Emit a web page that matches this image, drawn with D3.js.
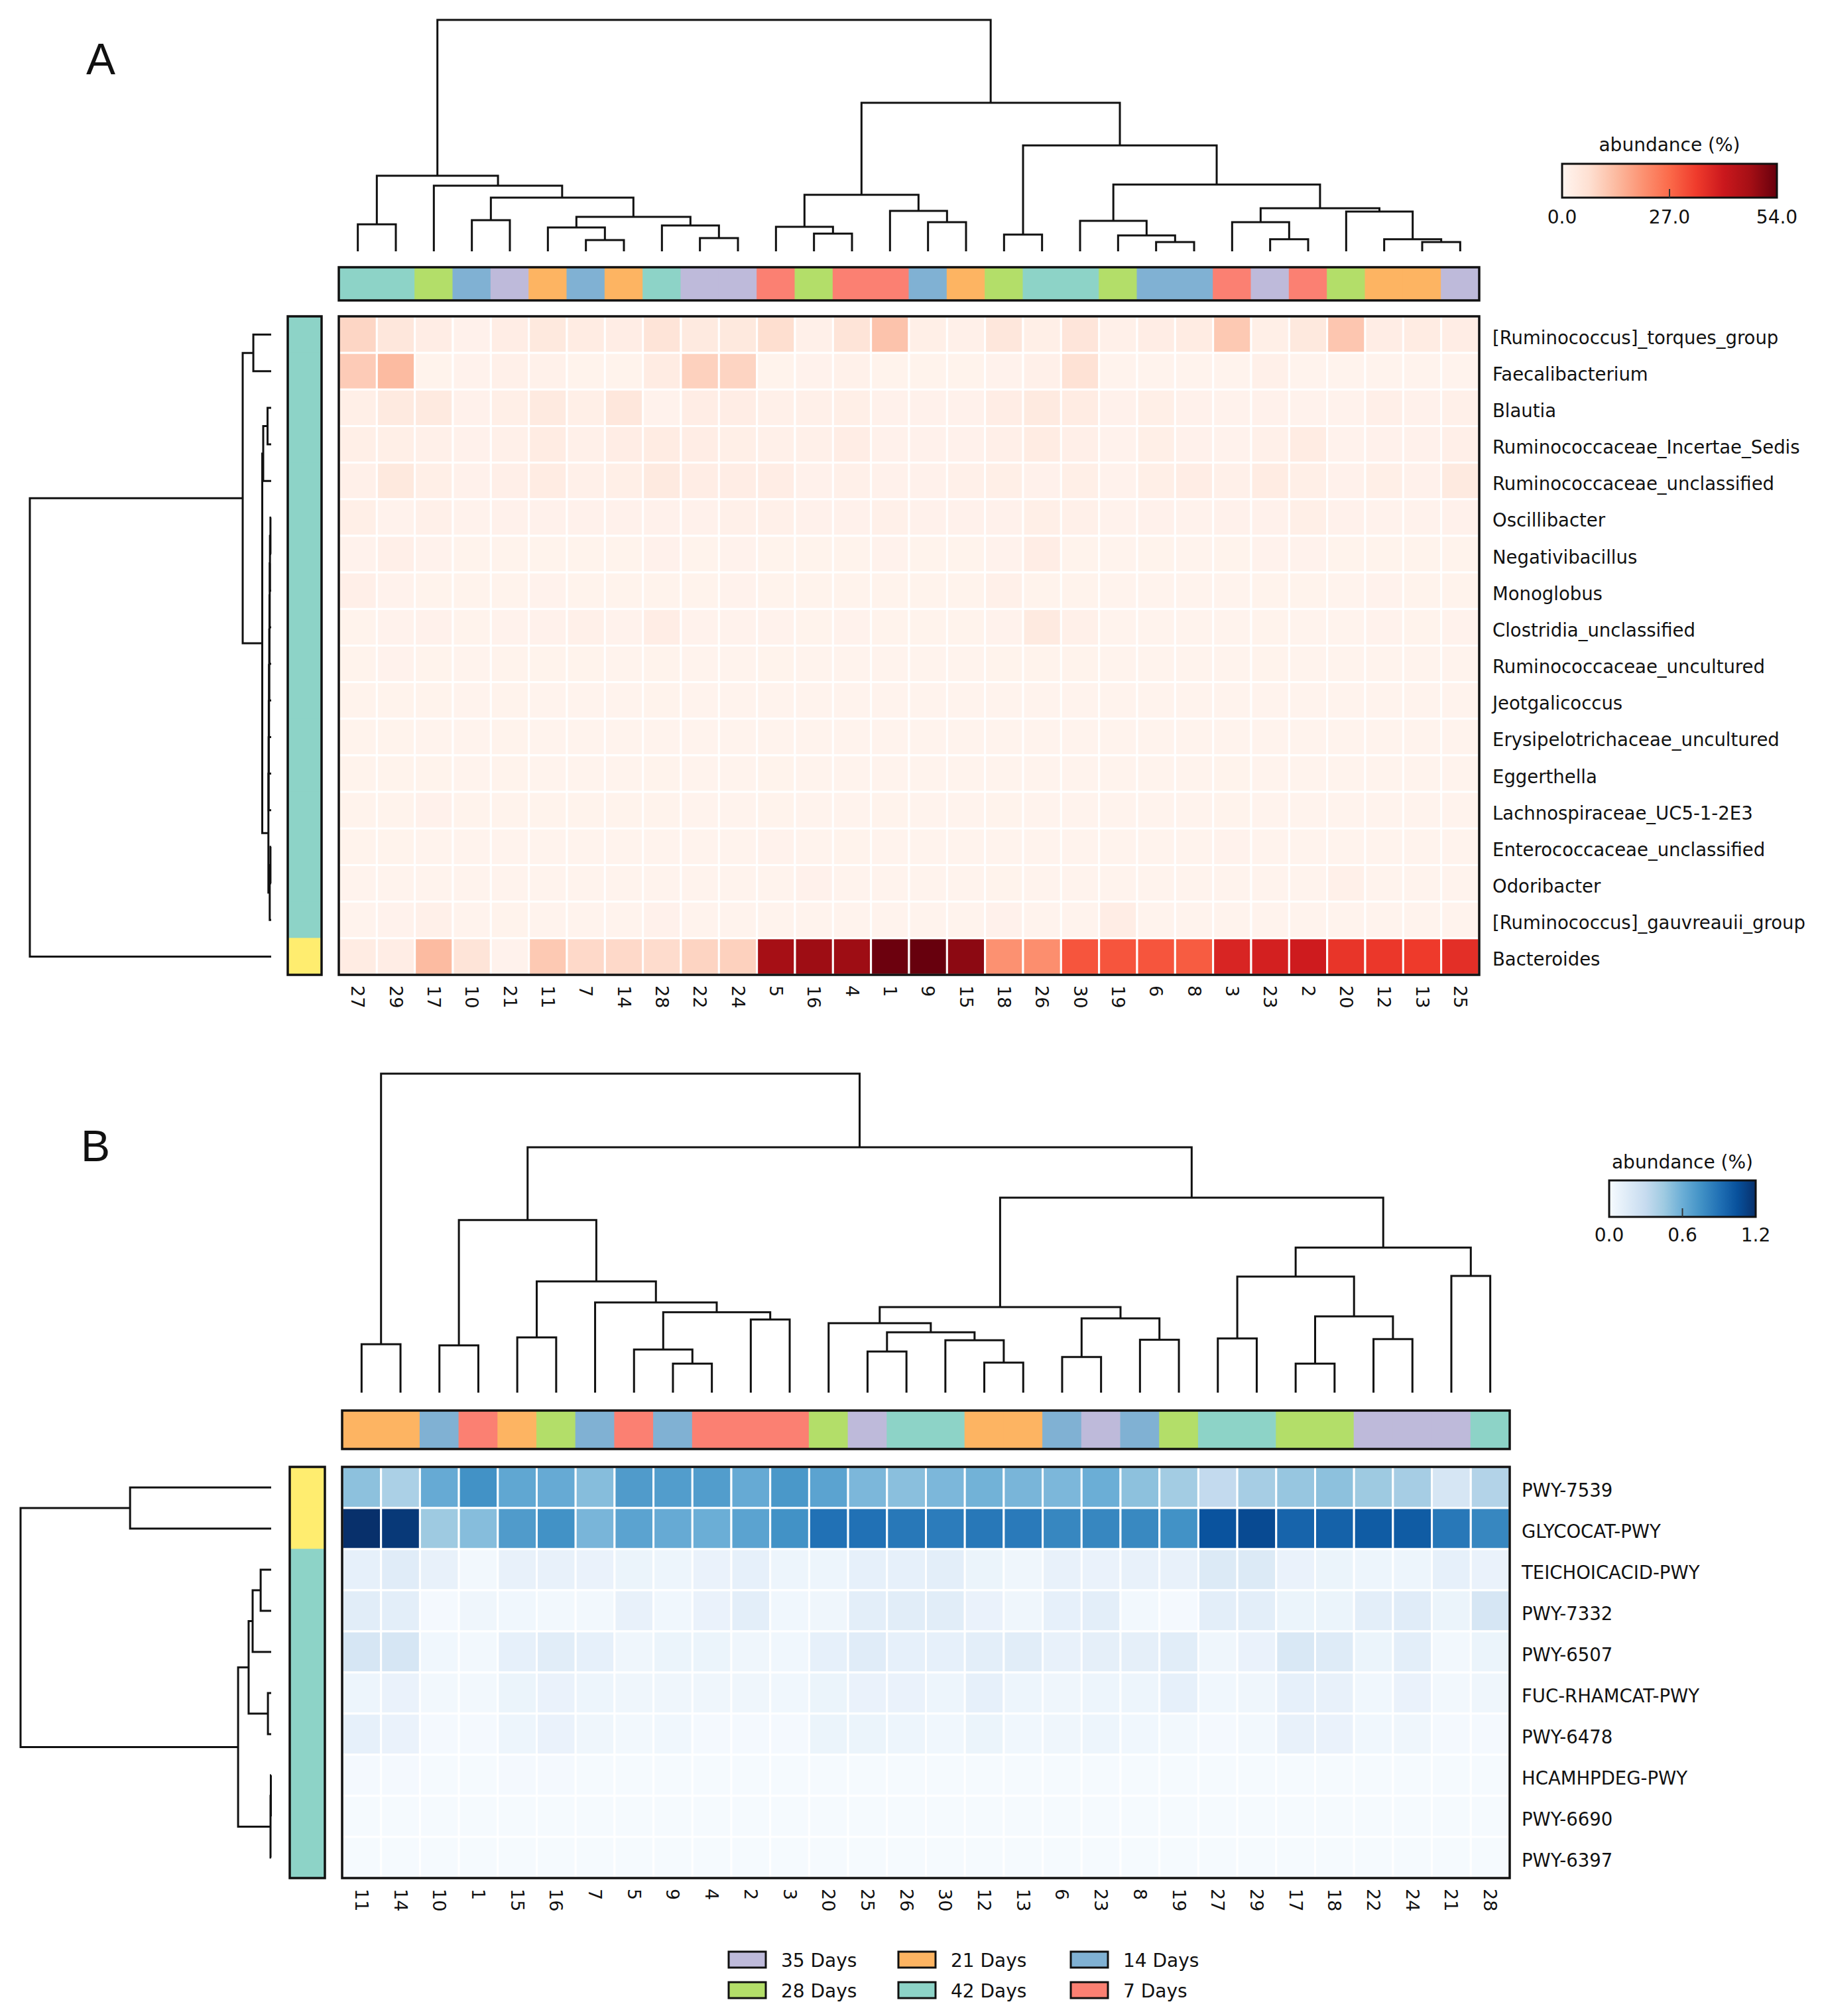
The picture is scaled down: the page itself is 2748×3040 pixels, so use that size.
<!DOCTYPE html>
<html>
<head>
<meta charset="utf-8">
<script src="https://cdn.jsdelivr.net/npm/d3@7"></script>
<style>
  body { margin: 0; background: #fff; }
  text { font-family: "DejaVu Sans", sans-serif; fill: #111; }
</style>
</head>
<body>
<div id="chart"></div>
<script>
"use strict";

// ---- shared data ----
var groupNames = ["7 Days", "14 Days", "21 Days", "28 Days", "35 Days", "42 Days"];
var groupColors = ["#fb8072", "#80b1d3", "#fdb462", "#b3de69", "#bebada", "#8dd3c7"];
// group index of sample 1..30
var sampleGroup = [0,0,0,0,0, 1,1,1,1,1, 2,2,2,2,2, 3,3,3,3,3, 4,4,4,4,4, 5,5,5,5,5];
var legendOrder = ["35 Days", "28 Days", "21 Days", "42 Days", "14 Days", "7 Days"];

var redsStops = ["#fff5f0","#fee0d2","#fcbba1","#fc9272","#fb6a4a","#ef3b2c","#cb181d","#a50f15","#67000d"];
var bluesStops = ["#f7fbff","#deebf7","#c6dbef","#9ecae1","#6baed6","#4292c6","#2171b5","#08519c","#08306b"];

// ---- panel A data ----
var colOrderA = [27,29,17,10,21,11,7,14,28,22,24,5,16,4,1,9,15,18,26,30,19,6,8,3,23,2,20,12,13,25];
var rowNamesA = ["[Ruminococcus]_torques_group","Faecalibacterium","Blautia","Ruminococcaceae_Incertae_Sedis",
  "Ruminococcaceae_unclassified","Oscillibacter","Negativibacillus","Monoglobus","Clostridia_unclassified",
  "Ruminococcaceae_uncultured","Jeotgalicoccus","Erysipelotrichaceae_uncultured","Eggerthella",
  "Lachnospiraceae_UC5-1-2E3","Enterococcaceae_unclassified","Odoribacter","[Ruminococcus]_gauvreauii_group","Bacteroides"];
// row cluster: 0 = teal, 1 = yellow
var rowClusterA = [0,0,0,0,0,0,0,0,0,0,0,0,0,0,0,0,0,1];
// values (%), columns in colOrderA order
var valuesA = [
  [8.5,4.5,2.5,1.2,2.5,4,3,2.5,5.5,3.5,4,7,1.5,5.5,12,2,1.5,4.5,2,5,1.5,2.5,3,11,2,4,11.5,2.5,3,2.5],
  [10.5,13.5,0.8,1,1.5,1.3,0.8,0.8,3,9.5,9,0.8,1,1.3,0.8,0.8,0.8,1,1.5,6,0.6,0.6,0.6,0.6,1.5,0.6,0.6,0.6,0.6,0.6],
  [2,3.5,3.5,1.2,2,3.5,2,4.5,1,2.5,2.5,1.5,1.5,2,1.2,1.2,1.2,2.5,3.5,3,1.2,2,1.2,1,1.2,1,1,1.8,1.2,1.5],
  [2,2,1.5,1.2,1.5,3,1.5,2.5,3,2.5,2,1.5,1.5,2.5,1.2,1.2,1.2,1.8,3,1.8,1,2,1.2,1,1.5,3,1,1.2,1.2,1.8],
  [1.5,4,2,1.2,1.8,3,1.5,2,3.5,2.5,2.5,2.5,1.2,1.5,1.2,1.2,1.5,2,1.2,2,1,2,2.5,1.5,3,2,1.2,2,1.2,3.5],
  [2,1,1.5,1,1.2,1.2,1.2,1.2,1.2,1.2,1.5,1.5,1.2,1.2,1.5,1.2,1.2,1.2,2,1.5,1,1.2,1,1.2,1.2,2,1.2,1,1,1.2],
  [1,1.8,1,0.8,0.8,0.8,0.8,0.8,1.2,0.8,1,0.8,0.8,0.8,1,0.8,0.8,1,2.5,0.8,0.6,0.8,0.6,0.8,1,1,0.8,0.8,0.8,0.8],
  [1.8,1,0.8,0.8,0.8,1,0.8,0.8,0.8,0.8,1,0.8,0.8,0.8,0.8,0.8,0.8,1.5,0.8,0.8,0.6,0.6,0.6,0.6,0.8,0.8,0.6,1,0.8,0.8],
  [0.8,1,1.2,0.8,1,1.2,1.5,1,2.5,1,1,1,0.8,1,0.8,0.8,0.8,1,3.5,1.5,0.6,0.6,0.6,0.6,0.8,0.6,0.6,1,0.8,1],
  [0.8,1,0.8,0.6,0.8,0.8,0.8,0.6,0.8,0.6,0.6,0.8,0.6,0.6,0.6,0.6,0.6,0.8,0.8,0.8,0.6,0.6,0.6,0.6,0.8,0.6,0.6,0.6,0.6,0.6],
  [0.8,0.8,0.8,0.6,0.8,0.6,0.6,0.6,0.8,0.6,0.6,0.6,0.6,0.6,0.6,0.6,0.6,0.6,0.6,0.6,0.6,0.6,0.6,0.6,0.6,0.6,0.6,0.6,0.6,0.6],
  [0.8,0.8,0.6,0.6,0.8,0.6,0.6,0.6,0.6,0.6,0.6,0.6,0.6,0.6,0.6,0.6,0.6,0.6,0.6,0.6,0.6,0.6,0.6,0.6,0.6,0.6,0.6,0.6,0.6,0.6],
  [0.8,0.8,0.8,0.6,0.8,0.6,0.6,0.6,0.8,0.6,0.6,0.8,0.6,0.6,0.6,0.6,0.6,0.6,0.6,0.6,0.6,0.6,0.6,0.8,0.6,0.6,0.6,0.6,0.6,0.6],
  [0.8,0.8,1.2,0.8,0.8,0.8,0.8,0.8,0.8,0.6,0.6,0.8,0.6,0.6,0.8,0.6,0.6,0.8,0.6,0.6,0.6,0.6,0.6,0.8,0.6,0.6,0.6,0.6,0.6,0.6],
  [0.8,0.8,0.6,0.6,0.6,0.6,0.6,0.6,0.6,0.6,0.6,1,0.6,0.8,0.6,0.6,0.6,0.6,0.6,0.6,0.6,0.6,0.6,1,0.6,0.6,0.6,0.6,0.6,0.6],
  [0.6,0.6,0.6,0.6,0.6,0.6,0.6,0.6,0.6,0.6,0.6,0.6,1.2,0.6,0.6,0.6,0.6,0.8,0.6,0.6,0.6,0.6,0.6,0.6,0.6,0.6,1.5,0.6,0.6,0.6],
  [0.6,1,1.5,0.6,0.8,0.6,0.6,0.6,1.2,0.6,0.6,0.6,0.6,0.6,0.6,0.6,0.6,1.2,0.6,0.6,2.5,0.6,0.6,0.6,0.6,0.6,0.6,0.6,0.6,0.6],
  [3,2.5,13.5,5.5,1,11,8,8,7.5,9,9.5,47,48,48,53.5,54,50,20.5,21,30,30,30,29,38,39,40,35,34.5,34,36]
];
// linkage trees: [left, right, height]; leaves are sample ids (columns) or row indices (rows)
var colTreeA = [
  [[27,29,11.7],[17,[[10,21,13.5],[[11,[7,14,4.9],10.3],[28,[22,24,5.7],11.2],14.9],23.2],28.4],32.7],
  [[[5,[16,4,7.7],10.6],[1,[9,15,12.6],17.5],24.4],
   [[18,26,7.2],[[30,[19,[6,8,4.0],6.9],13.2],[[3,[23,2,5.2],12.6],[20,[12,[13,25,4.0],5.2],17.2],18.6],28.9],45.8],64.2],
  100];
var rowTreeA = [
  [[0,1,7.4],[[[2,3,1.5],4,3.3],
    [[[[[[[[[5,6,0.3],7,0.5],8,0.6],9,0.7],10,0.8],11,0.9],12,1.0],13,1.05],[[14,15,0.3],16,0.6],1.15],3.7],11.8],
  17, 100];

// ---- panel B data ----
var colOrderB = [11,14,10,1,15,16,7,5,9,4,2,3,20,25,26,30,12,13,6,23,8,19,27,29,17,18,22,24,21,28];
var rowNamesB = ["PWY-7539","GLYCOCAT-PWY","TEICHOICACID-PWY","PWY-7332","PWY-6507",
  "FUC-RHAMCAT-PWY","PWY-6478","HCAMHPDEG-PWY","PWY-6690","PWY-6397"];
var rowClusterB = [1,1,0,0,0,0,0,0,0,0];
var valuesB = [
  [0.50,0.40,0.62,0.75,0.64,0.62,0.52,0.70,0.69,0.69,0.62,0.72,0.66,0.55,0.51,0.55,0.58,0.56,0.55,0.60,0.50,0.43,0.31,0.42,0.47,0.50,0.45,0.42,0.20,0.37],
  [1.20,1.16,0.45,0.52,0.70,0.75,0.56,0.66,0.62,0.60,0.66,0.75,0.90,0.90,0.87,0.85,0.87,0.86,0.80,0.80,0.79,0.75,1.04,1.08,0.96,0.97,1.00,1.00,0.87,0.80],
  [0.10,0.14,0.09,0.03,0.09,0.09,0.08,0.07,0.06,0.08,0.10,0.06,0.06,0.10,0.10,0.12,0.07,0.05,0.09,0.08,0.09,0.09,0.16,0.16,0.08,0.07,0.06,0.06,0.10,0.08],
  [0.13,0.12,0.02,0.05,0.04,0.03,0.03,0.09,0.04,0.08,0.12,0.04,0.05,0.12,0.13,0.13,0.08,0.05,0.10,0.12,0.03,0.02,0.12,0.12,0.07,0.07,0.12,0.14,0.07,0.20],
  [0.20,0.20,0.04,0.03,0.10,0.13,0.10,0.05,0.07,0.07,0.05,0.04,0.10,0.14,0.10,0.10,0.12,0.13,0.09,0.11,0.11,0.13,0.05,0.08,0.18,0.15,0.07,0.12,0.03,0.07],
  [0.06,0.08,0.03,0.03,0.07,0.08,0.06,0.05,0.05,0.05,0.05,0.04,0.07,0.08,0.08,0.06,0.10,0.06,0.05,0.06,0.06,0.10,0.04,0.05,0.10,0.09,0.04,0.08,0.03,0.05],
  [0.10,0.08,0.02,0.02,0.06,0.08,0.05,0.03,0.04,0.02,0.02,0.02,0.07,0.07,0.06,0.04,0.07,0.04,0.05,0.06,0.04,0.03,0.02,0.03,0.09,0.08,0.04,0.05,0.02,0.02],
  [0.02,0.02,0.01,0.01,0.02,0.02,0.01,0.01,0.01,0.01,0.01,0.01,0.01,0.01,0.01,0.01,0.01,0.01,0.01,0.01,0.01,0.01,0.01,0.01,0.01,0.01,0.01,0.01,0.01,0.01],
  [0.01,0.01,0.01,0.01,0.01,0.01,0.01,0.01,0.01,0.01,0.01,0.01,0.01,0.01,0.01,0.01,0.01,0.01,0.01,0.01,0.01,0.01,0.01,0.01,0.01,0.01,0.01,0.01,0.01,0.01],
  [0.01,0.01,0.01,0.01,0.01,0.01,0.01,0.01,0.01,0.01,0.01,0.01,0.01,0.01,0.01,0.01,0.01,0.01,0.01,0.01,0.01,0.01,0.01,0.01,0.01,0.01,0.01,0.01,0.01,0.01]
];
var colTreeB = [
  [11,14,15.2],
  [[[10,1,14.8],[[15,16,17.3],[7,[[5,[9,4,9.1],13.5],[2,3,22.9],25.2],28.3],34.9],54.1],
   [[[20,[[25,26,12.9],[30,[12,13,9.4],16.4],18.9],21.8],[[6,23,11.2],[8,19,16.6],23.3],26.8],
    [[[27,29,17.0],[[17,18,9.1],[22,24,16.8],23.9],36.4],[21,28,36.6],45.5],61.1],
   76.9],
  100];
var rowTreeB = [[0,1,56.3],[[[[2,3,4.2],4,7.4],[5,6,1.3],9.0],[[7,8,0.13],9,0.26],13.2],100];

// ---- drawing ----
var width = 2748, height = 3040;
var svg = d3.select("#chart").append("svg")
  .attr("width", width)
  .attr("height", height);
svg.append("rect").attr("width", width).attr("height", height).attr("fill", "#fff");

var clusterColors = ["#8dd3c7", "#ffed6f"];

function drawPanel(p) {
  var g = svg.append("g");
  var x = d3.scaleBand().domain(p.ids).range([p.hm.x0, p.hm.x1]);
  var y = d3.scaleBand().domain(d3.range(p.rows.length)).range([p.hm.y0, p.hm.y1]);
  var color = d3.scaleLinear()
    .domain(p.stops.map(function(s, i) { return p.vmax * i / (p.stops.length - 1); }))
    .range(p.stops)
    .interpolate(d3.interpolateRgb)
    .clamp(true);

  // heatmap cells
  var cells = [];
  p.values.forEach(function(row, ri) {
    row.forEach(function(v, ci) { cells.push({r: ri, id: p.ids[ci], v: v}); });
  });
  g.append("g").selectAll("rect")
    .data(cells)
    .enter()
    .append("rect")
      .attr("x", function(d) { return x(d.id); })
      .attr("y", function(d) { return y(d.r); })
      .attr("width", x.bandwidth())
      .attr("height", y.bandwidth())
      .attr("fill", function(d) { return color(d.v); })
      .attr("stroke", "#fff")
      .attr("stroke-width", 3);
  g.append("rect")
    .attr("x", p.hm.x0).attr("y", p.hm.y0)
    .attr("width", p.hm.x1 - p.hm.x0).attr("height", p.hm.y1 - p.hm.y0)
    .attr("fill", "none").attr("stroke", "#111").attr("stroke-width", 3.5);

  // column annotation bar
  g.append("g").selectAll("rect")
    .data(p.ids)
    .enter()
    .append("rect")
      .attr("x", function(d) { return x(d) - 0.5; })
      .attr("y", p.colAnn.y0)
      .attr("width", x.bandwidth() + 1)
      .attr("height", p.colAnn.y1 - p.colAnn.y0)
      .attr("fill", function(d) { return groupColors[sampleGroup[d - 1]]; });
  g.append("rect")
    .attr("x", p.hm.x0).attr("y", p.colAnn.y0)
    .attr("width", p.hm.x1 - p.hm.x0).attr("height", p.colAnn.y1 - p.colAnn.y0)
    .attr("fill", "none").attr("stroke", "#111").attr("stroke-width", 3.5);

  // row annotation bar
  g.append("g").selectAll("rect")
    .data(d3.range(p.rows.length))
    .enter()
    .append("rect")
      .attr("x", p.rowAnn.x0)
      .attr("y", function(d) { return y(d) - 0.5; })
      .attr("width", p.rowAnn.x1 - p.rowAnn.x0)
      .attr("height", y.bandwidth() + 1)
      .attr("fill", function(d) { return clusterColors[p.rowCluster[d]]; });
  g.append("rect")
    .attr("x", p.rowAnn.x0).attr("y", p.hm.y0)
    .attr("width", p.rowAnn.x1 - p.rowAnn.x0).attr("height", p.hm.y1 - p.hm.y0)
    .attr("fill", "none").attr("stroke", "#111").attr("stroke-width", 3.5);

  // row labels
  g.append("g").selectAll("text")
    .data(p.rows)
    .enter()
    .append("text")
      .attr("x", p.labelX)
      .attr("y", function(d, i) { return y(i) + y.bandwidth() / 2 + 4; })
      .attr("dominant-baseline", "central")
      .attr("font-size", 27.5)
      .text(function(d) { return d; });

  // column labels, rotated
  g.append("g").selectAll("text")
    .data(p.ids)
    .enter()
    .append("text")
      .attr("transform", function(d) {
        return "translate(" + (x(d) + x.bandwidth() / 2) + "," + p.tickY + ") rotate(90)";
      })
      .attr("dominant-baseline", "central")
      .attr("font-size", 27)
      .text(function(d) { return d; });

  // column dendrogram
  var colH = d3.scaleLinear().domain([0, p.colTree[2]]).range([p.colDen.base, p.colDen.top]);
  drawTree(g, p.colTree, function(leaf) { return x(leaf) + x.bandwidth() / 2; }, colH, true);

  // row dendrogram
  var rowH = d3.scaleLinear().domain([0, p.rowTree[2]]).range([p.rowDen.base, p.rowDen.top]);
  drawTree(g, p.rowTree, function(leaf) { return y(leaf) + y.bandwidth() / 2; }, rowH, false);

  // colorbar
  var gradId = "grad" + p.letter.t;
  var grad = svg.append("defs").append("linearGradient").attr("id", gradId);
  p.stops.forEach(function(s, i) {
    grad.append("stop").attr("offset", (i / (p.stops.length - 1) * 100) + "%").attr("stop-color", s);
  });
  var cb = p.cbar;
  var cbx = d3.scaleLinear().domain([0, p.vmax]).range([cb.x0, cb.x1]);
  g.append("rect")
    .attr("x", cb.x0).attr("y", cb.y0)
    .attr("width", cb.x1 - cb.x0).attr("height", cb.y1 - cb.y0)
    .attr("fill", "url(#" + gradId + ")")
    .attr("stroke", "#111").attr("stroke-width", 3);
  g.append("line")
    .attr("x1", cbx(p.vmax / 2)).attr("x2", cbx(p.vmax / 2))
    .attr("y1", cb.y1).attr("y2", cb.y1 - 13)
    .attr("stroke", "#333").attr("stroke-width", 2);
  g.append("text")
    .attr("x", cbx(p.vmax / 2)).attr("y", cb.title)
    .attr("text-anchor", "middle").attr("font-size", 28)
    .text("abundance (%)");
  g.selectAll("text.cbtick")
    .data([0, p.vmax / 2, p.vmax])
    .enter()
    .append("text")
      .attr("class", "cbtick")
      .attr("x", function(d) { return cbx(d); })
      .attr("y", cb.labels)
      .attr("text-anchor", "middle")
      .attr("font-size", 28)
      .text(d3.format(".1f"));

  // panel letter
  g.append("text")
    .attr("x", p.letter.x).attr("y", p.letter.y)
    .attr("font-size", 66)
    .style("font-family", "'Liberation Sans', Arial, sans-serif")
    .text(p.letter.t);
}

function drawTree(g, tree, leafPos, hScale, isColumn) {
  var segments = [];
  function walk(node) {
    if (!Array.isArray(node)) {
      return {p: leafPos(node), h: 0};
    }
    var a = walk(node[0]);
    var b = walk(node[1]);
    segments.push({a: a, b: b, h: node[2]});
    return {p: (a.p + b.p) / 2, h: node[2]};
  }
  walk(tree);
  g.append("g").selectAll("path")
    .data(segments)
    .enter()
    .append("path")
      .attr("d", function(s) {
        if (isColumn) {
          return "M" + s.a.p + "," + hScale(s.a.h) + "V" + hScale(s.h) + "H" + s.b.p + "V" + hScale(s.b.h);
        }
        return "M" + hScale(s.a.h) + "," + s.a.p + "H" + hScale(s.h) + "V" + s.b.p + "H" + hScale(s.b.h);
      })
      .attr("fill", "none")
      .attr("stroke", "#111")
      .attr("stroke-width", 3);
}

drawPanel({
  ids: colOrderA, rows: rowNamesA, values: valuesA, rowCluster: rowClusterA,
  colTree: colTreeA, rowTree: rowTreeA, stops: redsStops, vmax: 54,
  hm: {x0: 511, x1: 2231, y0: 477, y1: 1470},
  colAnn: {y0: 403, y1: 453}, colDen: {base: 379, top: 30},
  rowAnn: {x0: 434, x1: 485}, rowDen: {base: 409, top: 45},
  labelX: 2251, tickY: 1486,
  cbar: {x0: 2356, x1: 2680, y0: 247, y1: 298, title: 228, labels: 337},
  letter: {x: 130, y: 112, t: "A"}
});

drawPanel({
  ids: colOrderB, rows: rowNamesB, values: valuesB, rowCluster: rowClusterB,
  colTree: colTreeB, rowTree: rowTreeB, stops: bluesStops, vmax: 1.2,
  hm: {x0: 516, x1: 2277, y0: 2212, y1: 2832},
  colAnn: {y0: 2127, y1: 2185}, colDen: {base: 2100, top: 1619},
  rowAnn: {x0: 437, x1: 490}, rowDen: {base: 409, top: 31},
  labelX: 2295, tickY: 2848,
  cbar: {x0: 2427, x1: 2648, y0: 1780, y1: 1835, title: 1762, labels: 1872},
  letter: {x: 122, y: 1751, t: "B"}
});

// group legend (3 columns x 2 rows, filled column-wise)
var legendX = [1099, 1355, 1615];
var legendY = [2943, 2989];
var legend = svg.append("g").selectAll("g")
  .data(legendOrder)
  .enter()
  .append("g")
    .attr("transform", function(d, i) {
      return "translate(" + legendX[Math.floor(i / 2)] + "," + legendY[i % 2] + ")";
    });
legend.append("rect")
  .attr("width", 56).attr("height", 24)
  .attr("fill", function(d) { return groupColors[groupNames.indexOf(d)]; })
  .attr("stroke", "#111").attr("stroke-width", 3);
legend.append("text")
  .attr("x", 79).attr("y", 13)
  .attr("dominant-baseline", "central")
  .attr("font-size", 28)
  .text(function(d) { return d; });
</script>
</body>
</html>
